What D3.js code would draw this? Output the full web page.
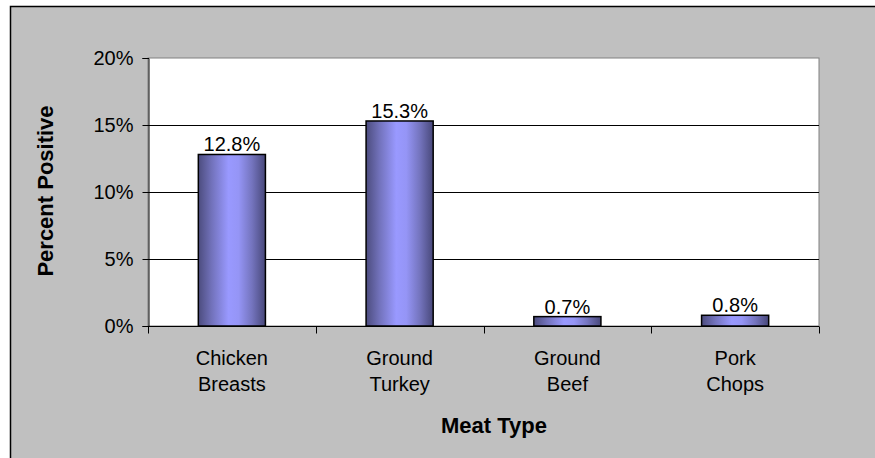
<!DOCTYPE html>
<html>
<head>
<meta charset="utf-8">
<script src="https://cdn.jsdelivr.net/npm/d3@7"></script>
<style>
  html, body { margin: 0; padding: 0; background: #ffffff; }
  svg { display: block; font-family: Arial, "Liberation Sans", sans-serif; }
</style>
</head>
<body>
<svg id="chart" width="875" height="458"></svg>
<script>
// Meat types (two-line category labels) and percent of positive samples
const categories = ["Chicken Breasts", "Ground Turkey", "Ground Beef", "Pork Chops"];
const categoryLines = [["Chicken", "Breasts"], ["Ground", "Turkey"], ["Ground", "Beef"], ["Pork", "Chops"]];
const percentPositive = [12.8, 15.3, 0.7, 0.8];
const yTicks = [0, 5, 10, 15, 20];

const svg = d3.select("#chart");
const W = 875, H = 458;

// Outer chart frame (grey background)
svg.append("rect")
  .attr("x", 10.5).attr("y", 6.5)
  .attr("width", W + 20).attr("height", H + 20)
  .attr("fill", "#c0c0c0")
  .attr("stroke", "#000").attr("stroke-width", 1.5);

const plot = { left: 148, right: 819, top: 58, bottom: 326 };

const x = d3.scaleBand()
  .domain(categories)
  .range([plot.left, plot.right])
  .paddingInner(0.6).paddingOuter(0.3);

const xOuter = d3.scaleBand()
  .domain(categories)
  .range([plot.left, plot.right]);

const y = d3.scaleLinear().domain([0, 20]).range([plot.bottom, plot.top]);

// Plot area
svg.append("rect")
  .attr("x", plot.left).attr("y", plot.top)
  .attr("width", plot.right - plot.left).attr("height", plot.bottom - plot.top)
  .attr("fill", "#ffffff")
  .attr("stroke", "#808080").attr("stroke-width", 1);

// Horizontal gridlines
svg.append("g")
  .selectAll("line")
  .data(yTicks.filter(t => t > 0 && t < 20))
  .join("line")
  .attr("x1", plot.left).attr("x2", plot.right)
  .attr("y1", d => Math.round(y(d)) + 0.5).attr("y2", d => Math.round(y(d)) + 0.5)
  .attr("stroke", "#000").attr("stroke-width", 1);

// Bar gradient: dark edges, light violet centre
const defs = svg.append("defs");
const grad = defs.append("linearGradient")
  .attr("id", "barGrad").attr("x1", "0%").attr("x2", "100%").attr("y1", "0%").attr("y2", "0%");
[[0, "#4c4c7e"], [0.2, "#7272bb"], [0.45, "#9999ff"], [0.6, "#9595f6"], [0.8, "#7474be"], [1, "#48487a"]]
  .forEach(([o, c]) => grad.append("stop").attr("offset", o).attr("stop-color", c));

// Bars
svg.append("g")
  .selectAll("rect")
  .data(percentPositive)
  .join("rect")
  .attr("x", (d, i) => x(categories[i]))
  .attr("y", d => y(d))
  .attr("width", x.bandwidth())
  .attr("height", d => y(0) - y(d))
  .attr("fill", "url(#barGrad)")
  .attr("stroke", "#000").attr("stroke-width", 1.5);

// Value labels
svg.append("g")
  .selectAll("text")
  .data(percentPositive)
  .join("text")
  .attr("x", (d, i) => x(categories[i]) + x.bandwidth() / 2)
  .attr("y", d => y(d) - 3)
  .attr("text-anchor", "middle")
  .attr("font-size", 20)
  .attr("fill", "#000")
  .text(d => d.toFixed(1) + "%");

// Y axis
const yAxis = d3.axisLeft(y).tickValues(yTicks).tickFormat(d => d + "%").tickSizeOuter(0).tickSize(6).tickPadding(9);
const gy = svg.append("g").attr("transform", `translate(${plot.left + 0.5},0)`).call(yAxis);
gy.select(".domain").attr("stroke", "#000");
gy.selectAll(".tick line").attr("stroke", "#000");
gy.selectAll(".tick text").attr("font-size", 20).attr("fill", "#000").attr("font-family", null);

// X axis with ticks on category boundaries
const gx = svg.append("g").attr("transform", `translate(0,${plot.bottom + 0.5})`);
gx.append("line")
  .attr("x1", plot.left).attr("x2", plot.right)
  .attr("stroke", "#000");
gx.selectAll("line.tick")
  .data(categories.map(c => xOuter(c)).concat([plot.right]))
  .join("line")
  .attr("class", "tick")
  .attr("x1", d => Math.round(d) + 0.5).attr("x2", d => Math.round(d) + 0.5)
  .attr("y1", 0).attr("y2", 7)
  .attr("stroke", "#000");

// Category labels
const catText = svg.append("g")
  .selectAll("text")
  .data(categories)
  .join("text")
  .attr("text-anchor", "middle")
  .attr("font-size", 20)
  .attr("fill", "#000");
catText.selectAll("tspan")
  .data((d, i) => categoryLines[i].map(line => ({ line, cx: xOuter(d) + xOuter.bandwidth() / 2 })))
  .join("tspan")
  .attr("x", d => d.cx)
  .attr("y", (d, j) => 365 + j * 26)
  .text(d => d.line);

// Axis titles
svg.append("text")
  .attr("transform", `translate(53,191) rotate(-90)`)
  .attr("text-anchor", "middle")
  .attr("font-size", 22).attr("font-weight", "bold")
  .text("Percent Positive");

svg.append("text")
  .attr("x", 494)
  .attr("y", 433)
  .attr("text-anchor", "middle")
  .attr("font-size", 22).attr("font-weight", "bold")
  .text("Meat Type");
</script>
</body>
</html>
